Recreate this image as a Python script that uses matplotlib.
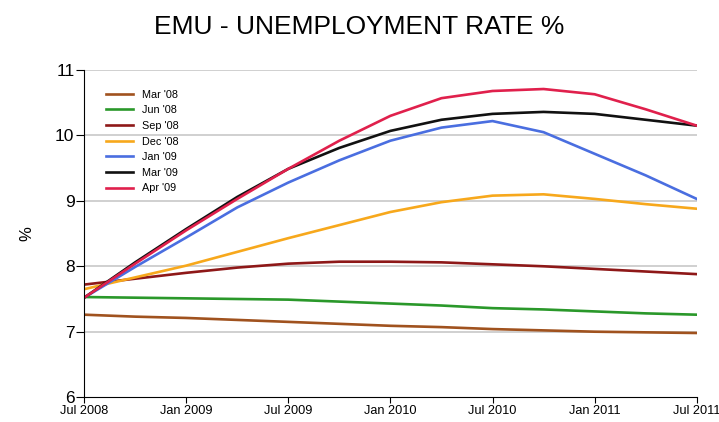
import matplotlib.pyplot as plt

plt.rcParams['font.family'] = ['Liberation Sans', 'DejaVu Sans']

# months since Jul 2008, quarterly
months = [0, 3, 6, 9, 12, 15, 18, 21, 24, 27, 30, 33, 36]
tick_pos = [0, 6, 12, 18, 24, 30, 36]
tick_labels = ['Jul 2008', 'Jan 2009', 'Jul 2009', 'Jan 2010', 'Jul 2010', 'Jan 2011', 'Jul 2011']

mar08 = [7.26, 7.23, 7.21, 7.18, 7.15, 7.12, 7.09, 7.07, 7.04, 7.02, 7.00, 6.99, 6.98]
jun08 = [7.53, 7.52, 7.51, 7.50, 7.49, 7.46, 7.43, 7.40, 7.36, 7.34, 7.31, 7.28, 7.26]
sep08 = [7.72, 7.81, 7.90, 7.98, 8.04, 8.07, 8.07, 8.06, 8.03, 8.00, 7.96, 7.92, 7.88]
dec08 = [7.65, 7.83, 8.01, 8.22, 8.43, 8.63, 8.83, 8.98, 9.08, 9.10, 9.03, 8.95, 8.88]
jan09 = [7.52, 7.99, 8.44, 8.90, 9.28, 9.62, 9.92, 10.12, 10.22, 10.05, 9.72, 9.39, 9.03]
mar09 = [7.52, 8.06, 8.57, 9.06, 9.49, 9.81, 10.07, 10.24, 10.33, 10.36, 10.33, 10.24, 10.15]
apr09 = [7.52, 8.04, 8.55, 9.03, 9.49, 9.92, 10.30, 10.57, 10.68, 10.71, 10.63, 10.40, 10.15]

series = [
    ("Mar '08", mar08, '#a0521e'),
    ("Jun '08", jun08, '#2a982a'),
    ("Sep '08", sep08, '#8e1818'),
    ("Dec '08", dec08, '#f7a81c'),
    ("Jan '09", jan09, '#4a6ee0'),
    ("Mar '09", mar09, '#111111'),
    ("Apr '09", apr09, '#e0204c'),
]

fig = plt.figure(figsize=(7.19, 4.22), dpi=100)
ax = fig.add_axes([0.117, 0.059, 0.852, 0.775])

for name, vals, col in series:
    ax.plot(months, vals, color=col, lw=1.9, label=name)

ax.set_xlim(0, 36)
ax.set_ylim(6, 11)
ax.set_xticks(tick_pos)
ax.set_xticklabels(tick_labels, fontsize=9.2)
ax.set_yticks([6, 7, 8, 9, 10, 11])
ax.tick_params(axis='y', labelsize=12.5, length=6, pad=1)
ax.tick_params(axis='x', length=4, pad=2)
for y in [7, 8, 9, 10, 11]:
    ax.axhline(y, color='#c8c8c8', lw=1.2, zorder=0)
ax.spines['top'].set_visible(False)
ax.spines['right'].set_visible(False)
ax.set_ylabel('%', fontsize=12, labelpad=15)

ax.legend(loc='upper left', bbox_to_anchor=(0.02, 0.97), frameon=False, fontsize=7.8,
          handlelength=2.5, labelspacing=0.52, handletextpad=0.8)

fig.suptitle('EMU - UNEMPLOYMENT RATE %', fontsize=19, y=0.965)

fig.savefig('out.png', dpi=100)
